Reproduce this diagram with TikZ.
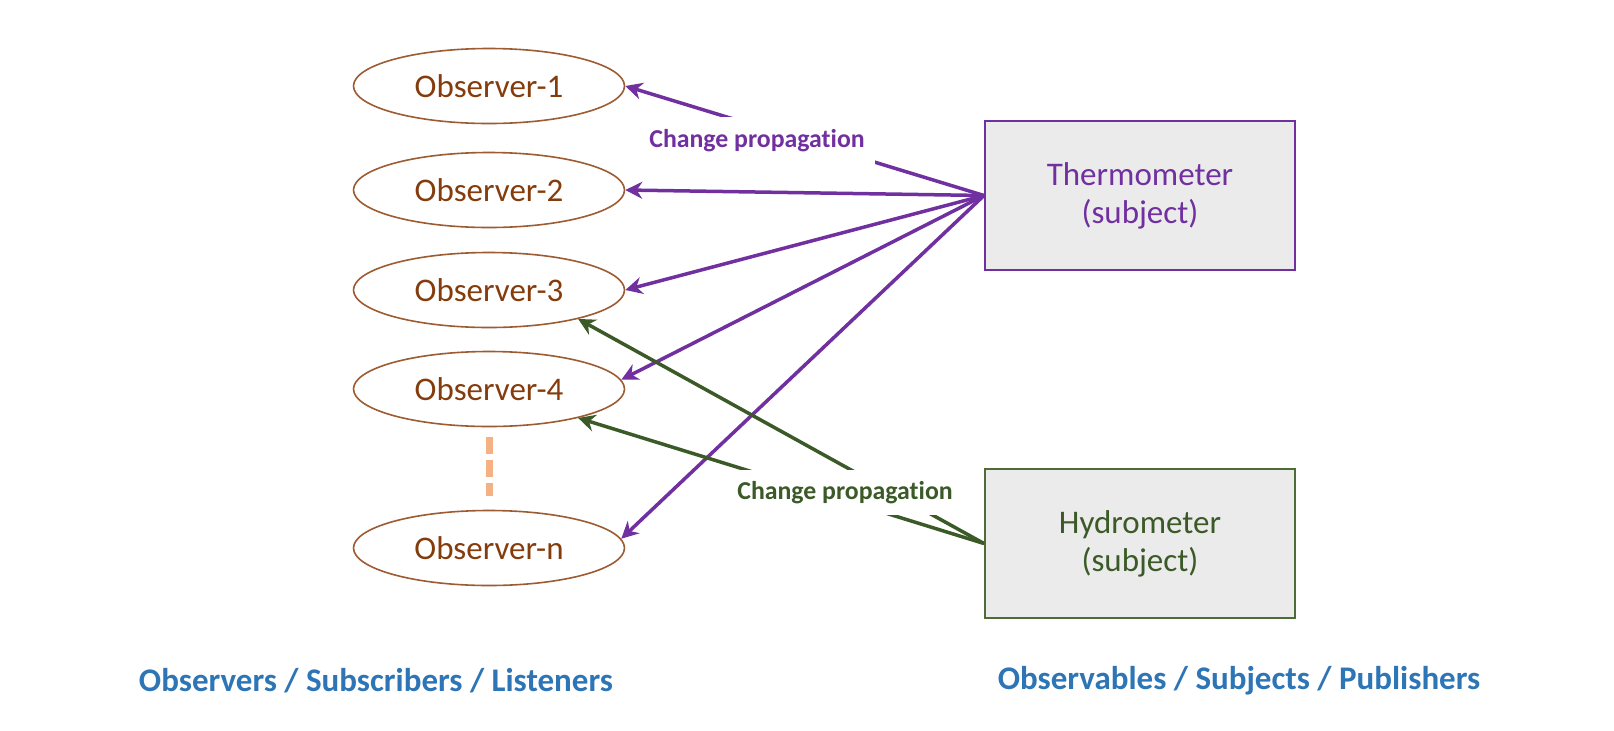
\documentclass[tikz,border=0pt]{standalone}
\usepackage{fontspec}
\setmainfont{Carlito}[Ligatures=NoCommon]
\usetikzlibrary{shapes.geometric,arrows.meta}
\definecolor{thermo}{HTML}{7030A0}
\definecolor{hydro}{HTML}{3B5A27}
\definecolor{hydroline}{HTML}{4E6B3A}
\definecolor{obstext}{HTML}{843C0C}
\definecolor{obsline}{HTML}{9C5B30}
\definecolor{boxfill}{HTML}{EBEBEB}
\definecolor{peach}{HTML}{F4B183}
\definecolor{captioncol}{HTML}{2E75B6}
\begin{document}
\begin{tikzpicture}[x=0.5pt,y=-0.5pt,
  obs/.style={ellipse, draw=obsline, line width=0.8pt, text=obstext,
    minimum width=135.5pt, minimum height=37.5pt, inner sep=0pt,
    font=\fontsize{16.5}{20.5}\selectfont},
  subj/.style={rectangle, fill=boxfill, line width=1pt, align=center,
    minimum width=155pt, minimum height=74.5pt, inner sep=0pt,
    font=\fontsize{16.5}{19}\selectfont},
  flow/.style={line width=1.75pt, -{Stealth[length=8.5pt,width=8.5pt,inset=2.8pt]}},
  lab/.style={fill=white, inner sep=0pt, minimum width=117.5pt,
    font=\fontsize{12.9}{15}\selectfont\bfseries},
  captext/.style={text=captioncol, inner sep=0pt,
    font=\fontsize{16.5}{20}\selectfont\bfseries}]
\useasboundingbox (0,0) rectangle (1614,730);

% observers
\node[obs] (o1) at (489,86)  {Observer-1};
\node[obs] (o2) at (489,190) {Observer-2};
\node[obs] (o3) at (489,290) {Observer-3};
\node[obs] (o4) at (489,389) {Observer-4};
\node[obs] (on) at (489,548) {Observer-n};
\draw[peach, line width=3.5pt, dash pattern=on 8.5pt off 3pt]
  ([yshift=-5pt]o4.south) -- ([yshift=7pt]on.north);

% subjects
\node[subj, draw=thermo, text=thermo] (th) at (1140,195.5) {Thermometer\\(subject)};
\node[subj, draw=hydroline, text=hydro] (hy) at (1140,543.5) {Hydrometer\\(subject)};

% change propagation from the thermometer
\draw[flow, thermo] (th.west) -- (o1.east);
\draw[flow, thermo] (th.west) -- (o2.east);
\draw[flow, thermo] (th.west) -- (o3.east);
\draw[flow, thermo] (th.west) -- (o4.4);
\draw[flow, thermo] (th.west) -- (on.4);

% change propagation from the hydrometer
\draw[flow, hydro] (hy.west) -- (o3.-18);
\draw[flow, hydro] (hy.west) -- (o4.-18);

% labels on the connectors
\node[lab, text=thermo, minimum height=24pt] (lt) at (757,141) {Change propagation};
\node[lab, text=hydro, minimum height=22.5pt] (lh) at (845,492.5) {Change propagation};

% captions
\node[captext] (cl) at (376,681) {Observers / Subscribers / Listeners};
\node[captext] (cr) at (1239,681) {Observables / Subjects / Publishers};
\end{tikzpicture}
\end{document}
